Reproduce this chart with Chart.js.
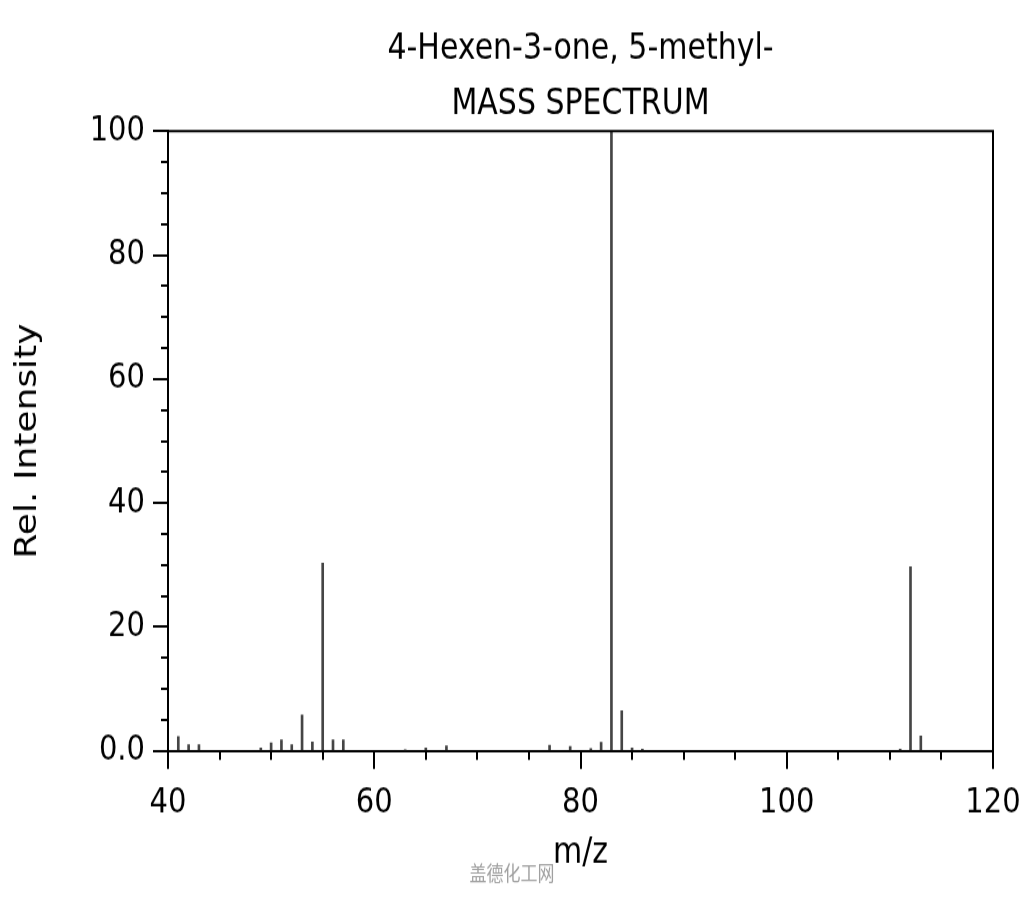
<!DOCTYPE html>
<html>
<head>
<meta charset="utf-8">
<title>4-Hexen-3-one, 5-methyl- mass spectrum</title>
<script src="https://cdn.jsdelivr.net/npm/chart.js@4.4.1/dist/chart.umd.min.js"></script>
<style>
  html, body { margin: 0; padding: 0; background: #fff; }
</style>
</head>
<body>
<!-- the reference is stretched vertically, so the 750px tall drawing is shown 900px tall -->
<canvas id="spectrum" width="1024" height="750" style="display:block;width:1024px;height:900px"></canvas>
<script>
const titleLines = ["4-Hexen-3-one, 5-methyl-", "MASS SPECTRUM"];
const xAxisTitle = "m/z";
const yAxisTitle = "Rel. Intensity";
const watermark = "盖德化工网";

const mzValues = [41, 42, 43, 49, 50, 51, 52, 53, 54, 55, 56, 57, 63, 65, 67, 77, 79, 81, 82, 83, 84, 85, 86, 111, 112, 113];
const intensities = [2.3, 1.0, 1.0, 0.5, 1.3, 1.8, 1.0, 5.8, 1.45, 30.3, 1.8, 1.8, 0.2, 0.5, 0.8, 0.9, 0.7, 0.4, 1.4, 100, 6.5, 0.5, 0.3, 0.3, 29.7, 2.4];

const xTicks = [40, 60, 80, 100, 120];
const xTickLabels = ["40", "60", "80", "100", "120"];
const yTicks = [0, 20, 40, 60, 80, 100];
const yTickLabels = ["0.0", "20", "40", "60", "80", "100"];

const FONT = "DejaVu Sans";

// frame, minor ticks, title and watermark
const decorations = {
  id: "decorations",
  afterDraw(chart) {
    const { ctx, chartArea: area, scales: { x, y } } = chart;
    ctx.save();
    ctx.strokeStyle = "#000";
    ctx.lineWidth = 2;

    ctx.beginPath();
    ctx.moveTo(area.left, area.top);
    ctx.lineTo(area.right, area.top);
    ctx.lineTo(area.right, area.bottom);
    ctx.stroke();

    ctx.beginPath();
    for (let v = 45; v < 120; v += 5) {
      if (v % 20 === 0) continue;
      const px = Math.round(x.getPixelForValue(v));
      ctx.moveTo(px, area.bottom);
      ctx.lineTo(px, area.bottom + 7.5);
    }
    for (let v = 5; v < 100; v += 5) {
      if (v % 20 === 0) continue;
      const py = Math.round(y.getPixelForValue(v));
      ctx.moveTo(area.left - 7, py);
      ctx.lineTo(area.left, py);
    }
    ctx.stroke();

    ctx.fillStyle = "#000";
    ctx.font = `30px "${FONT}"`;
    ctx.textAlign = "center";
    ctx.textBaseline = "alphabetic";
    const cx = (area.left + area.right) / 2;
    ctx.fillText(titleLines[0], cx, 49);
    ctx.fillText(titleLines[1], cx, 95);

    ctx.fillStyle = "#a0a0a0";
    ctx.font = '17px "Noto Sans CJK SC"';
    ctx.textBaseline = "middle";
    ctx.fillText(watermark, 512, 728);
    ctx.restore();
  }
};

new Chart(document.getElementById("spectrum"), {
  type: "bar",
  data: {
    datasets: [{
      data: mzValues.map((m, i) => ({ x: m, y: intensities[i] })),
      backgroundColor: "#454545",
      borderWidth: 0,
      barThickness: 2
    }]
  },
  options: {
    responsive: false,
    animation: false,
    layout: { padding: { top: 109.2, right: 31, left: 0, bottom: 0 } },
    plugins: {
      legend: { display: false },
      tooltip: { enabled: false },
      title: { display: false }
    },
    scales: {
      x: {
        type: "linear",
        position: "bottom",
        min: 40,
        max: 120,
        offset: false,
        afterFit(scale) {
          scale.height = 124.2;
          scale.paddingLeft = 0;
          scale.paddingRight = 0;
        },
        afterBuildTicks(scale) { scale.ticks = xTicks.map(v => ({ value: v })); },
        grid: { offset: false, drawOnChartArea: false, drawTicks: true, tickLength: 15, color: "#000", lineWidth: 2 },
        border: { color: "#000", width: 2 },
        ticks: {
          autoSkip: false,
          maxRotation: 0,
          padding: 11,
          color: "#000",
          font: { family: FONT, size: 29 },
          callback: (v) => xTickLabels[xTicks.indexOf(v)]
        },
        title: {
          display: true,
          text: xAxisTitle,
          color: "#000",
          font: { family: FONT, size: 30 },
          padding: { top: 0, bottom: 21 }
        }
      },
      y: {
        type: "linear",
        min: 0,
        max: 100,
        afterFit(scale) {
          scale.width = 168;
          scale.paddingTop = 0;
          scale.paddingBottom = 0;
        },
        afterBuildTicks(scale) { scale.ticks = yTicks.map(v => ({ value: v })); },
        grid: { drawOnChartArea: false, drawTicks: true, tickLength: 15, color: "#000", lineWidth: 2 },
        border: { color: "#000", width: 2 },
        ticks: {
          autoSkip: false,
          padding: 8,
          color: "#000",
          font: { family: FONT, size: 29 },
          callback: (v) => yTickLabels[yTicks.indexOf(v)]
        },
        title: {
          display: true,
          text: yAxisTitle,
          color: "#000",
          font: { family: FONT, size: 30 },
          padding: { top: 10, bottom: 0 }
        }
      }
    }
  },
  plugins: [decorations]
});
</script>
</body>
</html>
